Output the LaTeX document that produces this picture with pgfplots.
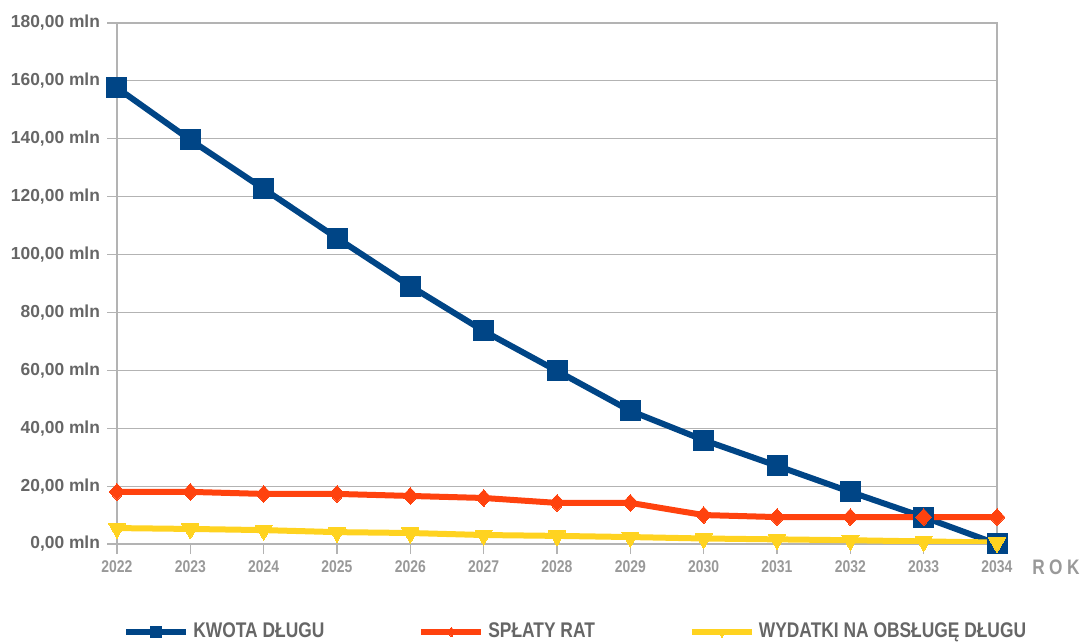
\documentclass[border=0pt]{standalone}
\usepackage{fontspec}
\setmainfont{Liberation Sans}
\newfontfamily\narrowfont[FakeStretch=0.82]{Liberation Sans}
\usepackage{pgfplots}
\pgfplotsset{compat=1.18}
\definecolor{cblue}{HTML}{004586}
\definecolor{corange}{HTML}{FF420E}
\definecolor{cyellow}{HTML}{FFD320}
\definecolor{cgrid}{HTML}{B3B3B3}
\definecolor{ctxt}{HTML}{666666}
\definecolor{ctxtl}{HTML}{999999}
\begin{document}
\begin{tikzpicture}[x=1pt,y=1pt]
\useasboundingbox (0,0) rectangle (540.5,321);
\begin{axis}[
  at={(58.5pt,49pt)}, anchor=south west,
  scale only axis, width=440pt, height=260.5pt,
  xmin=2022, xmax=2034, ymin=0, ymax=180,
  xtick={2022,...,2034},
  ytick={0,20,...,180},
  yticklabels={{0,00 mln},{20,00 mln},{40,00 mln},{60,00 mln},{80,00 mln},{100,00 mln},{120,00 mln},{140,00 mln},{160,00 mln},{180,00 mln}},
  /pgf/number format/1000 sep={},
  /pgf/number format/assume math mode=true,
  axis line style={cgrid, line width=0.6pt},
  ymajorgrids, grid style={cgrid, line width=0.6pt},
  tick style={cgrid, line width=0.6pt},
  tick align=outside, major tick length=5pt,
  xtick pos=bottom, ytick pos=left,
  yticklabel style={font=\bfseries\fontsize{8.7}{10}\selectfont, text=ctxt},
  xticklabel style={font=\narrowfont\bfseries\fontsize{8.5}{10}\selectfont, text=ctxtl},
  legend style={at={(0.0068,-0.169)}, anchor=west, draw=none, fill=none, inner sep=0pt,
    font=\narrowfont\bfseries\fontsize{10.6}{12}\selectfont, text=ctxt,
    legend columns=3,
    /tikz/every even column/.append style={column sep=45pt}},
  legend cell align=left,
  legend image code/.code={%
    \draw[#1, mark=none] (0pt,0pt) -- (30pt,0pt);
    \draw[#1, every mark/.append style={scale=0.55}] plot coordinates {(15pt,0pt)};},
]
\addplot[cblue, line width=3pt, mark=square*, mark size=5pt, mark options={solid, fill=cblue, draw=cblue, line width=0pt}] coordinates {
(2022,157.6) (2023,139.6) (2024,122.7) (2025,105.7) (2026,89.1) (2027,73.6) (2028,59.8) (2029,46.0) (2030,35.9) (2031,27.0) (2032,18.0) (2033,9.3) (2034,0)};
\addlegendentry{KWOTA DŁUGU}
\addplot[corange, line width=3pt, mark=diamond*, mark size=4.2pt, mark options={solid, fill=corange, draw=corange, line width=0pt, xscale=1.25}] coordinates {
(2022,18.0) (2023,18.0) (2024,17.3) (2025,17.3) (2026,16.6) (2027,15.9) (2028,14.2) (2029,14.2) (2030,10.0) (2031,9.3) (2032,9.3) (2033,9.3) (2034,9.3)};
\addlegendentry{SPŁATY RAT}
\addplot[cyellow, line width=3pt, mark=triangle*, mark size=5pt, mark options={solid, fill=cyellow, draw=cyellow, line width=0pt, rotate=180}] coordinates {
(2022,5.5) (2023,5.2) (2024,4.8) (2025,4.1) (2026,3.8) (2027,3.1) (2028,2.8) (2029,2.4) (2030,1.9) (2031,1.6) (2032,1.3) (2033,0.9) (2034,0.5)};
\addlegendentry{WYDATKI NA OBSŁUGĘ DŁUGU}
\end{axis}
\node[anchor=west, inner sep=0pt, text=ctxtl, font=\narrowfont\bfseries\fontsize{10.5}{12}\selectfont] at (516pt,37.5pt) {R\hspace{2.2pt}O\hspace{2.2pt}K};
\end{tikzpicture}
\end{document}
